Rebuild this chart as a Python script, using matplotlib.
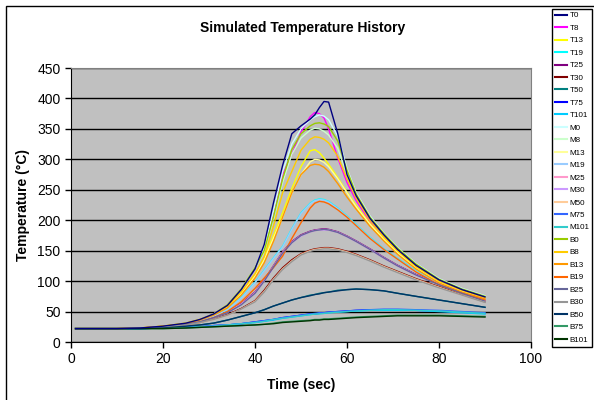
import matplotlib
matplotlib.use("Agg")
import matplotlib.pyplot as plt
from matplotlib.patches import Rectangle

plt.rcParams['font.family'] = ['Liberation Sans', 'DejaVu Sans']

# time samples (sec)
t = [1, 10, 15, 20, 25, 28, 31, 34, 37, 40, 42, 44, 46, 48, 50, 52, 53, 54, 55, 56,
     58, 60, 62, 65, 68, 71, 75, 80, 85, 90]

names = ["T0", "T8", "T13", "T19", "T25", "T30", "T50", "T75", "T101",
         "M0", "M8", "M13", "M19", "M25", "M30", "M50", "M75", "M101",
         "B0", "B8", "B13", "B19", "B25", "B30", "B50", "B75", "B101"]

colors = ["#000080", "#FF00FF", "#FFFF00", "#00FFFF", "#800080", "#800000", "#008080", "#0000FF", "#00CCFF",
          "#CCFFFF", "#CCFFCC", "#FFFF99", "#99CCFF", "#FF99CC", "#CC99FF", "#FFCC99", "#3366FF", "#33CCCC",
          "#99CC00", "#FFCC00", "#FF9900", "#FF6600", "#666699", "#969696", "#003366", "#339966", "#003300"]

T0 = [22, 22, 23, 26, 31, 37, 46, 60, 86, 120, 160, 228, 290, 342, 355, 366, 373, 385, 395, 394,
      342, 275, 240, 203, 176, 152, 126, 102, 86, 74]
T8 = [22, 22, 23, 26, 31, 37, 46, 60, 85, 120, 150, 210, 275, 308, 345, 370, 377, 375, 368, 350,
      302, 262, 232, 198, 172, 149, 124, 100, 85, 73]
T13 = [22, 22, 23, 26, 31, 37, 45, 58, 80, 110, 138, 175, 212, 252, 288, 314, 316, 311, 302, 292,
       270, 246, 224, 195, 170, 148, 123, 99, 84, 72]
T19 = [22, 22, 23, 25, 29, 34, 42, 53, 73, 98, 118, 138, 157, 186, 212, 228, 233, 235, 234, 231,
       220, 207, 193, 172, 153, 137, 117, 96, 82, 71]
T25 = [22, 22, 23, 25, 29, 33, 40, 49, 63, 82, 102, 125, 148, 165, 176, 182, 184, 185, 186, 185,
       181, 174, 166, 153, 139, 126, 111, 96, 81, 68]
T30 = [22, 22, 23, 25, 28, 32, 38, 45, 55, 68, 85, 105, 122, 135, 145, 151, 153, 154, 155, 155,
       153, 149, 144, 135, 125, 116, 104, 91, 78, 66]
T50 = [22, 22, 22, 23, 26, 28, 31, 36, 42, 48, 53, 59, 64, 69, 73, 77, 78, 80, 81, 82,
       85, 86, 87, 86, 84, 80, 75, 69, 63, 57]
T75 = [22, 22, 22, 23, 24, 25, 27, 28, 30, 33, 35, 37, 40, 42, 44, 46, 46, 47, 48, 49,
       50, 51, 52, 53, 53, 53, 52, 51, 49, 47]
T101 = [22, 22, 22, 23, 24, 25, 26, 28, 30, 32, 34, 36, 39, 41, 43, 45, 46, 47, 47, 48,
        49, 50, 51, 52, 52, 52, 52, 50, 48, 46]

M0 = [22, 22, 23, 26, 31, 37, 46, 60, 86, 122, 155, 215, 280, 325, 350, 365, 370, 373, 371, 365,
      338, 285, 245, 207, 179, 155, 129, 104, 88, 76]
M8 = [22, 22, 23, 26, 31, 37, 46, 60, 85, 120, 148, 202, 262, 308, 335, 348, 351, 350, 346, 340,
      318, 275, 240, 203, 176, 152, 126, 102, 86, 74]
M13 = [22, 22, 23, 26, 31, 37, 45, 57, 79, 108, 135, 170, 205, 245, 275, 296, 300, 299, 295, 288,
       268, 245, 222, 193, 168, 146, 121, 98, 83, 72]
M19 = [22, 22, 23, 25, 29, 34, 42, 53, 72, 97, 117, 137, 156, 185, 211, 227, 232, 234, 233, 230,
       219, 206, 192, 171, 152, 136, 116, 95, 81, 70]
M25 = [22, 22, 23, 25, 29, 33, 40, 49, 62, 81, 101, 124, 147, 164, 175, 181, 183, 184, 185, 184,
       180, 173, 165, 152, 138, 125, 110, 95, 80, 68]
M30 = [22, 22, 23, 25, 29, 33, 40, 49, 62, 80, 100, 122, 145, 163, 174, 181, 183, 184, 184, 184,
       180, 173, 165, 152, 138, 125, 110, 95, 80, 67]
M50 = [22, 22, 23, 25, 28, 32, 37, 44, 54, 67, 83, 103, 120, 133, 144, 150, 152, 153, 154, 154,
       152, 148, 143, 134, 124, 115, 103, 90, 77, 66]
M75 = [22, 22, 22, 23, 24, 25, 27, 28, 30, 33, 35, 37, 40, 42, 44, 46, 47, 48, 48, 49,
       50, 51, 52, 53, 54, 54, 53, 52, 50, 48]
M101 = [22, 22, 22, 23, 24, 25, 26, 28, 30, 32, 34, 37, 39, 41, 43, 45, 46, 46, 47, 48,
        49, 50, 51, 52, 53, 53, 52, 51, 49, 47]

B0 = [22, 22, 23, 26, 31, 37, 46, 61, 87, 122, 150, 205, 268, 316, 342, 355, 359, 360, 358, 354,
      330, 282, 243, 205, 178, 154, 128, 103, 87, 75]
B8 = [22, 22, 23, 26, 31, 37, 45, 59, 82, 112, 140, 190, 245, 280, 315, 333, 337, 336, 333, 327,
      305, 268, 236, 200, 173, 150, 124, 100, 85, 73]
B13 = [22, 22, 23, 26, 30, 36, 44, 56, 77, 105, 130, 165, 205, 245, 275, 290, 292, 291, 287, 280,
       260, 238, 218, 190, 166, 144, 120, 97, 82, 71]
B19 = [22, 22, 23, 25, 29, 33, 40, 50, 66, 88, 105, 122, 141, 170, 196, 220, 228, 231, 230, 227,
       217, 205, 191, 170, 152, 136, 115, 94, 80, 69]
B25 = [22, 22, 23, 25, 29, 33, 40, 48, 61, 80, 100, 123, 146, 163, 175, 181, 183, 184, 185, 184,
       180, 173, 165, 152, 138, 125, 110, 94, 80, 67]
B30 = [22, 22, 23, 25, 28, 32, 37, 44, 54, 66, 82, 102, 119, 132, 143, 149, 151, 152, 153, 153,
       151, 147, 142, 133, 123, 114, 102, 89, 77, 65]
B50 = [22, 22, 22, 23, 26, 28, 31, 36, 42, 48, 53, 59, 64, 69, 73, 76, 78, 79, 81, 82,
       84, 86, 87, 86, 84, 80, 75, 69, 63, 57]
B75 = [22, 22, 22, 22, 23, 24, 25, 26, 27, 28, 29, 31, 33, 34, 35, 36, 37, 37, 38, 38,
       39, 40, 41, 42, 43, 44, 44, 44, 43, 42]
B101 = [22, 22, 22, 22, 23, 24, 25, 26, 27, 28, 29, 30, 32, 33, 34, 35, 36, 36, 37, 37,
        38, 39, 40, 41, 42, 43, 43, 43, 42, 41]

series = [T0, T8, T13, T19, T25, T30, T50, T75, T101,
          M0, M8, M13, M19, M25, M30, M50, M75, M101,
          B0, B8, B13, B19, B25, B30, B50, B75, B101]

fig = plt.figure(figsize=(5.94, 4.0), dpi=100)
ax = fig.add_axes([71 / 594, 1 - 342 / 400, 460 / 594, 274 / 400])
ax.set_facecolor("#C0C0C0")

lines = []
for name, c, y in zip(names, colors, series):
    ln, = ax.plot(t, y, color=c, lw=1.0, label=name)
    lines.append(ln)
# T0 stays visible above the bundle
lines[0].set_zorder(5)

ax.set_xlim(0, 100)
ax.set_ylim(0, 450)
ax.set_xticks(range(0, 101, 20))
ax.set_yticks(range(0, 451, 50))
ax.yaxis.grid(True, color="black", lw=1.0)
ax.set_axisbelow(True)
ax.tick_params(direction="out", length=4, width=1, labelsize=10, colors="black")
for s in ["top", "right"]:
    ax.spines[s].set_color("#808080")
for s in ["left", "bottom"]:
    ax.spines[s].set_color("black")

fig.text(303 / 594, 1 - 28 / 400, "Simulated Temperature History", ha="center", va="center",
         fontsize=10, fontweight="bold")
fig.text(301 / 594, 1 - 385 / 400, "Time (sec)", ha="center", va="center",
         fontsize=10, fontweight="bold")
fig.text(23 / 594, 1 - 205 / 400, "Temperature (°C)", ha="center", va="center",
         fontsize=10, fontweight="bold", rotation=90)

# chart area border
fig.patches.append(Rectangle((6 / 594, -0.1), 2, 1.1 - 6 / 400, transform=fig.transFigure,
                             fill=False, edgecolor="black", lw=1))

leg = fig.legend(handles=lines, loc="upper left", bbox_to_anchor=(552 / 594, 1 - 9 / 400),
                 fontsize=5.8, frameon=True, fancybox=False, edgecolor="black", framealpha=1,
                 handlelength=1.5, handletextpad=0.3, labelspacing=0.6, borderpad=0.35,
                 borderaxespad=0)
leg.get_frame().set_linewidth(1)
for h in leg.legend_handles:
    h.set_linewidth(1.5)

fig.savefig("out.png", dpi=100)
